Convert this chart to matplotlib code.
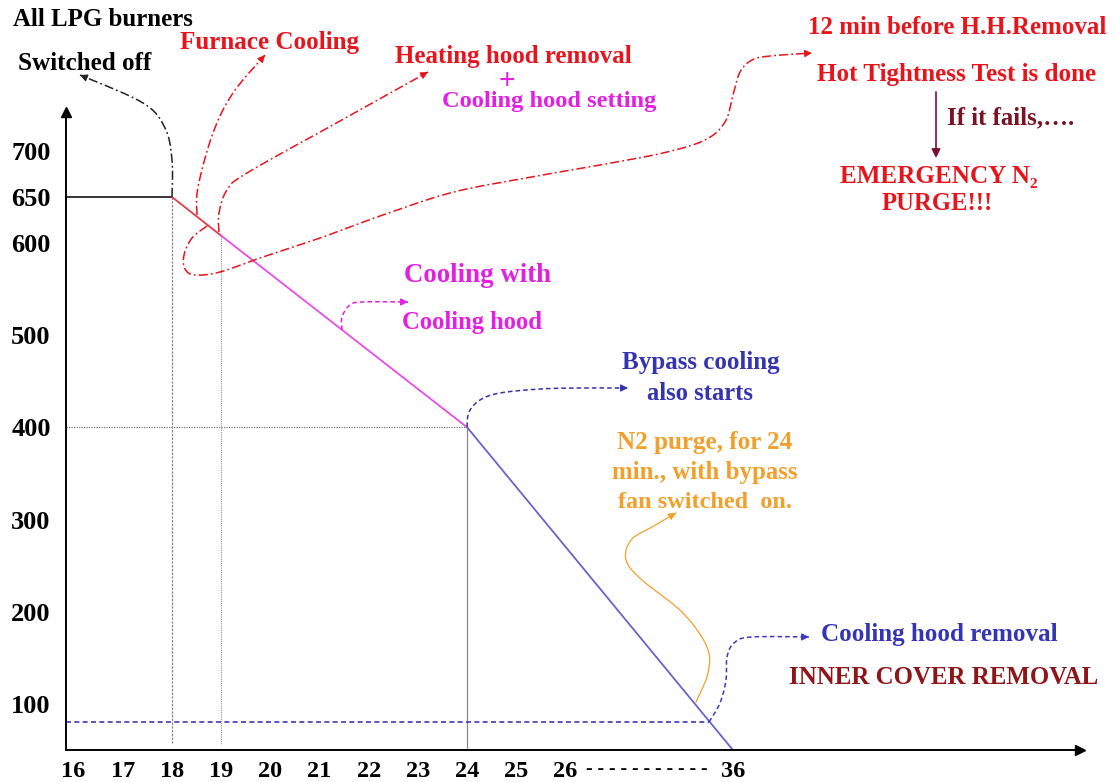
import numpy as np
import matplotlib
matplotlib.use("Agg")
import matplotlib.pyplot as plt
from matplotlib.transforms import Affine2D

# ---------------- data ----------------
x_tick_values = [16, 17, 18, 19, 20, 21, 22, 23, 24, 25, 26, 36]
x_tick_labels = ["16", "17", "18", "19", "20", "21", "22", "23", "24", "25", "26", "36"]
y_tick_values = [100, 200, 300, 400, 500, 600, 650, 700]
y_tick_labels = ["100", "200", "300", "400", "500", "600", "650", "700"]

# cooling curve segments (time, temperature)
furnace_t = [18, 19]
furnace_T = [650, 608]
hood_t = [19, 24]
hood_T = [608, 400]
bypass_t = [24, 36]
bypass_T = [400, 50]

burner_off_time, burner_off_temp = 18, 650
hh_removal_time, hh_removal_temp = 19, 608
bypass_time, bypass_temp = 24, 400
hood_removal_time, hood_removal_temp = 34.6, 80

# ---------------- styling ----------------
W, H = 1117, 782
FONT = ["Liberation Serif", "DejaVu Serif"]
RED = "#e8141c"
MAG = "#e21fe2"
BLUE = "#3434b0"
ORANGE = "#f2a02c"
DRED = "#8e1518"
LRED = "#d8404a"
LMAG = "#e84ce8"
LBLUE = "#6464cc"

fig = plt.figure(figsize=(W / 100, H / 100), dpi=100)
fig.patch.set_facecolor("white")

# axes from pixel 66..1080 (x) and 112..750 (y, from top)
ax = fig.add_axes([66 / W, (H - 750) / H, (1080 - 66) / W, (750 - 112) / H])

BREAK, FACTOR = 26.0, 0.34


def fwd(t):
    t = np.asarray(t, dtype=float)
    return np.where(t <= BREAK, t, BREAK + (t - BREAK) * FACTOR)


def inv(p):
    p = np.asarray(p, dtype=float)
    return np.where(p <= BREAK, p, BREAK + (p - BREAK) / FACTOR)


ax.set_xscale("function", functions=(fwd, inv))
ax.set_xlim(15.846, float(inv(36.455)))
ax.set_ylim(50, 742.2)

for s in ["top", "right"]:
    ax.spines[s].set_visible(False)
for s in ["left", "bottom"]:
    ax.spines[s].set_linewidth(1.4)
    ax.spines[s].set_color("black")
ax.plot(1, 0, ">k", transform=ax.transAxes, clip_on=False, markersize=7)
ax.plot(0, 1, "^k", transform=ax.transAxes, clip_on=False, markersize=7)

ax.set_xticks(x_tick_values)
ax.set_xticklabels(x_tick_labels, fontfamily=FONT, fontweight="bold", fontsize=17.5)
ax.set_yticks(y_tick_values)
ax.set_yticklabels(y_tick_labels, fontfamily=FONT, fontweight="bold", fontsize=19)
ax.xaxis.set_minor_locator(matplotlib.ticker.NullLocator())
ax.tick_params(axis="x", length=0, pad=8)
ax.tick_params(axis="y", length=0, pad=11)

# reference lines
ax.plot([15.846, burner_off_time], [burner_off_temp, burner_off_temp], color="black", lw=1.1)
ax.plot([15.846, bypass_time], [bypass_temp, bypass_temp], color="#777777", lw=0.9, ls=(0, (1, 1)))
ax.plot([burner_off_time, burner_off_time], [burner_off_temp, 58], color="#8a8a8a", lw=0.9, ls=(0, (2, 1)))
ax.plot([hh_removal_time, hh_removal_time], [hh_removal_temp, 55], color="#8a8a8a", lw=0.8, ls=(0, (1, 1)))
ax.plot([bypass_time, bypass_time], [bypass_temp, 50], color="#8a8a8a", lw=0.9)
ax.plot([15.846, hood_removal_time], [hood_removal_temp, hood_removal_temp],
        color="#3a3ac0", lw=1.2, ls=(0, (3, 2)))

# cooling curve
ax.plot(furnace_t, furnace_T, color=LRED, lw=1.3)
ax.plot(hood_t, hood_T, color=LMAG, lw=1.3)
ax.plot(bypass_t, bypass_T, color=LBLUE, lw=1.3)

# ---------------- annotations in reference-pixel coordinates ----------------
PX = Affine2D().scale(1 / W, -1 / H).translate(0, 1) + fig.transFigure


def catmull(pts, n=25):
    p = np.asarray(pts, dtype=float)
    p = np.vstack([p[0], p, p[-1]])
    out = []
    for i in range(1, len(p) - 2):
        p0, p1, p2, p3 = p[i - 1], p[i], p[i + 1], p[i + 2]
        t = np.linspace(0, 1, n, endpoint=False)[:, None]
        seg = 0.5 * ((2 * p1) + (-p0 + p2) * t + (2 * p0 - 5 * p1 + 4 * p2 - p3) * t ** 2
                     + (-p0 + 3 * p1 - 3 * p2 + p3) * t ** 3)
        out.append(seg)
    out.append(p[-2][None, :])
    return np.vstack(out)


def leader(pts, color, ls, lw=1.1, head=11):
    c = catmull(pts)
    fig.add_artist(plt.Line2D(c[:, 0], c[:, 1], transform=PX, color=color, lw=lw, ls=ls))
    end = c[-1]
    d = c[-1] - c[-4]
    d = d / np.hypot(*d)
    start = end - d * 6
    ax.annotate("", xy=tuple(end), xytext=tuple(start), xycoords=PX, textcoords=PX,
                arrowprops=dict(arrowstyle="-|>", color=color, lw=0.8,
                                mutation_scale=head, shrinkA=0, shrinkB=0))


DD = (0, (6, 2, 1.2, 2))
leader([(172, 197), (172, 160), (165, 128), (143, 103), (80, 75)], "#222222", DD)
leader([(197, 215), (198, 187), (213, 133), (233, 93), (265, 55)], RED, DD)
leader([(219, 232), (219, 213), (227, 190), (247, 173), (340, 121), (428, 72)], RED, DD)
leader([(207, 226), (192, 238), (184, 255), (185, 269), (195, 275), (220, 272), (260, 258),
        (320, 238), (380, 216), (450, 193), (520, 179), (600, 165), (663, 153), (705, 140),
        (725, 122), (733, 95), (740, 72), (752, 60), (770, 56), (812, 53)], RED, DD)
leader([(342, 330), (342, 317), (350, 305), (363, 302), (408, 302)], MAG, (0, (3, 2)))
leader([(467, 427), (469, 412), (480, 400), (500, 393), (540, 389), (580, 388), (628, 388)],
       BLUE, (0, (3, 2)))
leader([(696, 702), (708, 673), (707, 647), (683, 613), (642, 580), (626, 560), (631, 540),
        (652, 527), (676, 513)], ORANGE, "-", lw=0.9)
leader([(709, 722), (720, 703), (726, 680), (727, 657), (734, 643), (751, 637), (809, 637)],
       "#3a3ac0", (0, (3, 2)))

# If it fails arrow
ax.annotate("", xy=(936, 158), xytext=(936, 92), xycoords=PX, textcoords=PX,
            arrowprops=dict(arrowstyle="-|>", color="#7a1030", lw=1.2,
                            mutation_scale=13, shrinkA=0, shrinkB=0))

renderer = fig.canvas.get_renderer()


def label(s, x0, x1, yc, color, base=16):
    t = ax.text(x0, yc, s, transform=PX, ha="left", va="center", color=color,
                fontfamily=FONT, fontweight="bold", fontsize=base)
    bb = t.get_window_extent(renderer)
    t.set_fontsize(base * (x1 - x0) / bb.width)
    return t


label("All LPG burners", 13, 193, 20, "black")
label("Switched off", 18, 152, 63, "black")
label("Furnace Cooling", 180, 360, 43, RED)
label("Heating hood removal", 395, 633, 57, RED)
label("Cooling hood setting", 442, 657, 101, MAG)
ax.text(507, 82, "+", transform=PX, ha="center", va="center", color=MAG,
        fontfamily=FONT, fontweight="bold", fontsize=21)
label("12 min before H.H.Removal", 808, 1108, 28, RED)
label("Hot Tightness Test is done", 817, 1098, 74, RED)
label("If it fails,\u2026.", 947, 1075, 118, "#7a1424")
label("EMERGENCY N\u2082", 840, 1037, 177, RED)
label("PURGE!!!", 882, 993, 203, RED)
label("Cooling with", 404, 552, 276, MAG)
label("Cooling hood", 402, 543, 322, MAG)
label("Bypass cooling", 622, 780, 363, BLUE)
label("also starts", 647, 753, 393, BLUE)
label("N2 purge, for 24", 617, 793, 442, ORANGE)
label("min., with bypass", 612, 798, 472, ORANGE)
label("fan switched  on.", 618, 793, 502, ORANGE)
label("Cooling hood removal", 821, 1059, 635, "#3434b8")
label("INNER COVER REMOVAL", 789, 1099, 678, DRED)
ax.text(647, 770, "- - - - - - - - - - -", transform=PX, ha="center", va="center",
        color="black", fontfamily=FONT, fontweight="bold", fontsize=14)

fig.savefig("out.png", dpi=100, facecolor="white")
